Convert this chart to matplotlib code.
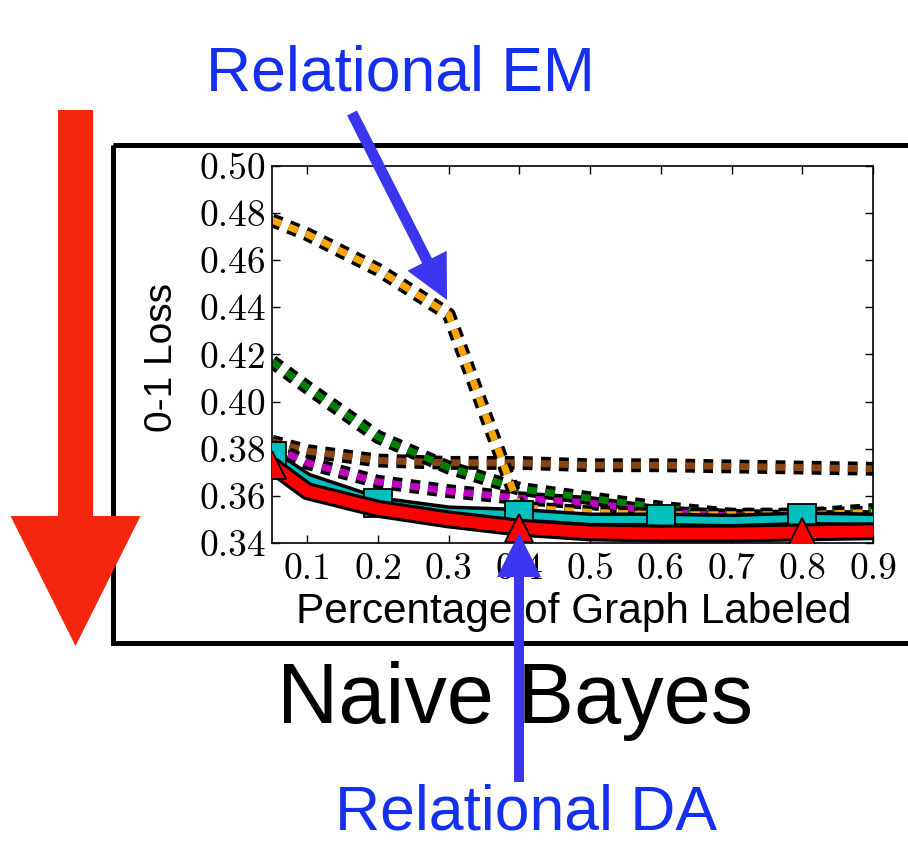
import matplotlib
matplotlib.use("Agg")
import matplotlib.pyplot as plt
from matplotlib.patches import FancyArrow, Rectangle

plt.rcParams['lines.scale_dashes'] = False

# ---- data ----
x = [0.05, 0.1, 0.2, 0.3, 0.4, 0.5, 0.6, 0.7, 0.8, 0.9]
orange = [0.477, 0.471, 0.456, 0.437, 0.355, 0.353, 0.352, 0.352, 0.352, 0.353]
green = [0.417, 0.406, 0.385, 0.372, 0.363, 0.359, 0.355, 0.352, 0.352, 0.354]
brown = [0.383, 0.379, 0.375, 0.374, 0.374, 0.373, 0.373, 0.3725, 0.372, 0.3715]
magenta = [0.381, 0.374, 0.366, 0.362, 0.359, 0.357, 0.353, 0.3515, 0.351, 0.351]
cyan = [0.377, 0.367, 0.357, 0.353, 0.352, 0.350, 0.350, 0.3495, 0.3505, 0.350]
red = [0.373, 0.362, 0.3545, 0.350, 0.3465, 0.3445, 0.344, 0.344, 0.3445, 0.345]

xticks = [0.1, 0.2, 0.3, 0.4, 0.5, 0.6, 0.7, 0.8, 0.9]
xticklabels = ["0.1", "0.2", "0.3", "0.4", "0.5", "0.6", "0.7", "0.8", "0.9"]
yticks = [0.34, 0.36, 0.38, 0.40, 0.42, 0.44, 0.46, 0.48, 0.50]
yticklabels = ["0.34", "0.36", "0.38", "0.40", "0.42", "0.44", "0.46", "0.48", "0.50"]

SANS = "Liberation Sans"
SERIF = "cmr10"

fig = plt.figure(figsize=(9.08, 8.41), dpi=100)
ax = fig.add_axes([272 / 908, 1 - 543 / 841, 601 / 908, 377 / 841])

dash = (7, 6)
for ys, col in [(brown, '#8B4513'), (magenta, '#BF00BF'), (green, '#008000'), (orange, '#FFA500')]:
    ax.plot(x, ys, color='black', lw=10, dashes=dash, dash_capstyle='butt', zorder=2)
    ax.plot(x, ys, color=col, lw=5, dashes=dash, dash_capstyle='butt', zorder=2)

# cyan solid with squares
ax.plot(x, cyan, color='black', lw=10, solid_capstyle='butt', zorder=3)
ax.plot(x, cyan, color='#00BFBF', lw=5, solid_capstyle='butt', zorder=3)
ax.plot(x, cyan, ls='none', marker='s', ms=20, mfc='#00BFBF', mec='black', mew=1.3,
        markevery=2, zorder=3)
# red solid with triangles
ax.plot(x, red, color='black', lw=13, solid_capstyle='butt', zorder=4)
ax.plot(x, red, color='#FF0000', lw=8.5, solid_capstyle='butt', zorder=4)
ax.plot(x, red, ls='none', marker='^', ms=20, mfc='#FF0000', mec='black', mew=1.3,
        markevery=4, zorder=4)

ax.set_xlim(0.05, 0.9)
ax.set_ylim(0.34, 0.50)
ax.set_xticks(xticks)
ax.set_xticklabels(xticklabels, fontfamily=SERIF, fontsize=27)
ax.set_yticks(yticks)
ax.set_yticklabels(yticklabels, fontfamily=SERIF, fontsize=27)
ax.tick_params(direction='in', top=True, right=True, length=6, width=1)
ax.tick_params(axis='y', pad=4)
ax.tick_params(axis='x', pad=7)
for s in ax.spines.values():
    s.set_linewidth(1.2)

ax.set_xlabel("Percentage of Graph Labeled", fontfamily=SANS, fontsize=30.5)
ax.xaxis.set_label_coords(0.502, -0.183)
ax.xaxis.label.set_va('center')
ax.set_ylabel("0-1 Loss", fontfamily=SANS, fontsize=28)
ax.yaxis.set_label_coords(-0.183, 0.492)
ax.yaxis.label.set_va('center')

# ---- overlay in pixel coordinates ----
ov = fig.add_axes([0, 0, 1, 1], zorder=5)
ov.set_xlim(0, 908)
ov.set_ylim(841, 0)
ov.axis('off')
ov.patch.set_alpha(0)

ov.add_patch(Rectangle((113, 145), 900, 498, fill=False, lw=3.6, edgecolor='black', clip_on=False))

ov.add_patch(FancyArrow(75.5, 110, 0, 536, width=35, head_width=130, head_length=130,
                        length_includes_head=True, color='#F5260E', lw=0))
ov.add_patch(FancyArrow(352, 113, 95, 187, width=11, head_width=44, head_length=44,
                        length_includes_head=True, color='#3B35F0', lw=0))
ov.add_patch(FancyArrow(519, 782, 0, -249, width=10, head_width=44, head_length=44,
                        length_includes_head=True, color='#3B35F0', lw=0))

ov.text(400.5, 90, "Relational EM", color='#1430EE', fontfamily=SANS, fontsize=45,
        ha='center', va='baseline')
ov.text(515.5, 723, "Naive Bayes", color='black', fontfamily=SANS, fontsize=61,
        ha='center', va='baseline')
ov.text(526.5, 829, "Relational DA", color='#1430EE', fontfamily=SANS, fontsize=45,
        ha='center', va='baseline')

fig.savefig("out.png", dpi=100)
